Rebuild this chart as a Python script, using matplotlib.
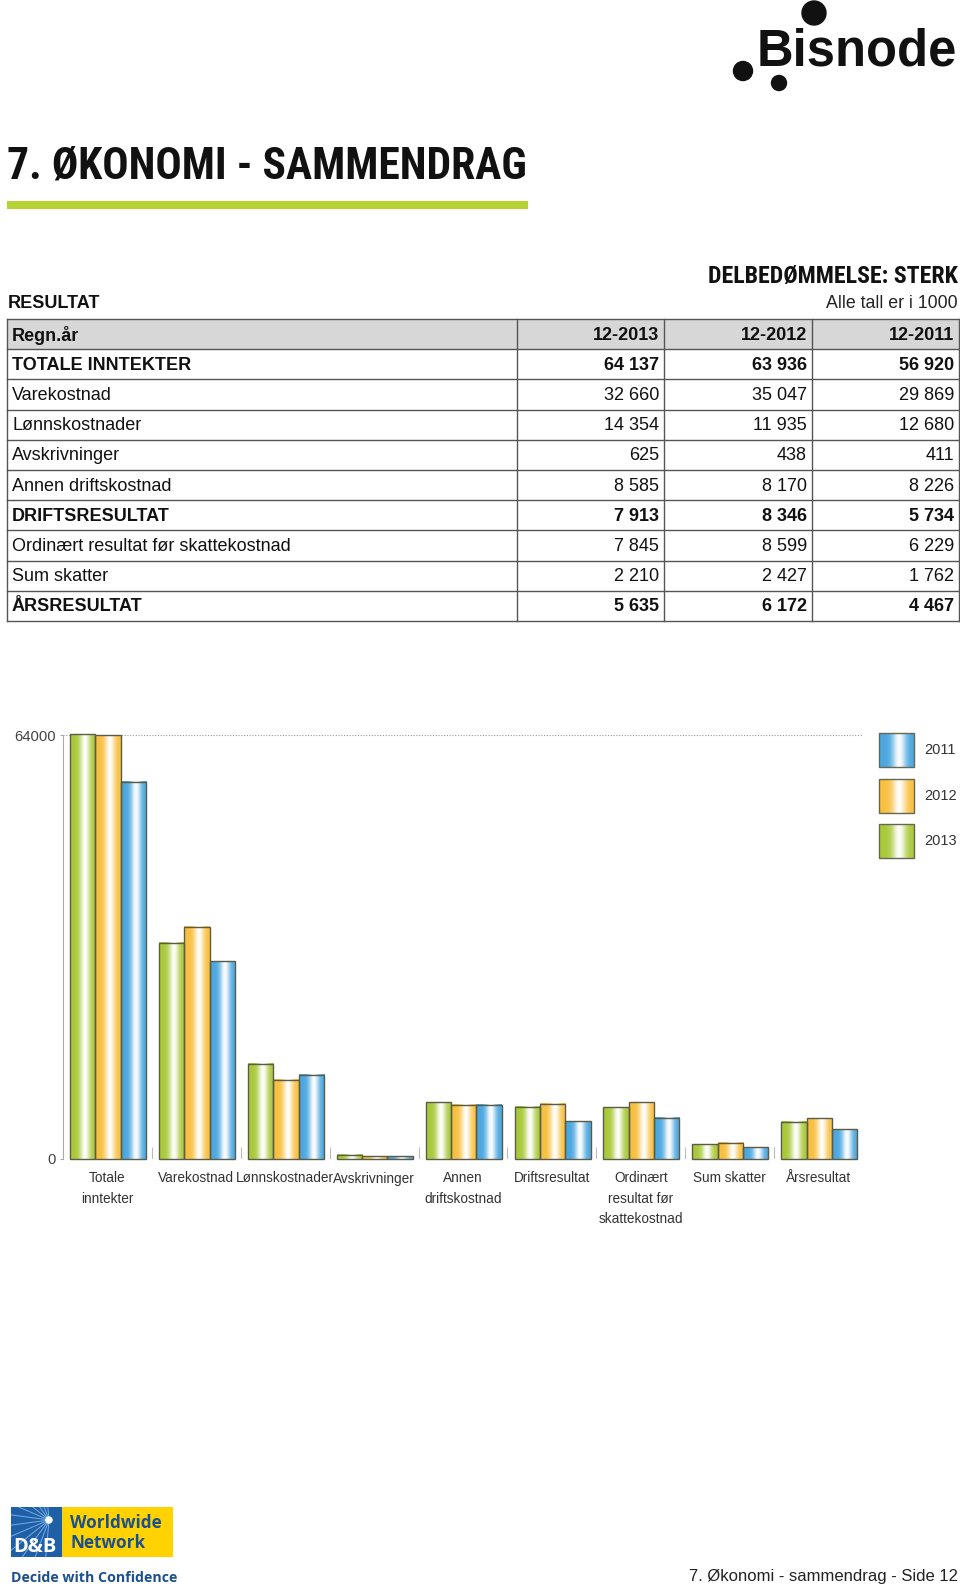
import os
import numpy as np
import matplotlib
matplotlib.use("Agg")
import matplotlib.pyplot as plt
from matplotlib.patches import Rectangle, Circle
from matplotlib.colors import to_rgb
from matplotlib import font_manager as fm

# ---------------- data ----------------
col_years = ["12-2013", "12-2012", "12-2011"]
row_labels = ["TOTALE INNTEKTER", "Varekostnad", "Lønnskostnader", "Avskrivninger",
              "Annen driftskostnad", "DRIFTSRESULTAT", "Ordinært resultat før skattekostnad",
              "Sum skatter", "ÅRSRESULTAT"]
bold_rows = [True, False, False, False, False, True, False, False, True]
values_2013 = [64137, 32660, 14354, 625, 8585, 7913, 7845, 2210, 5635]
values_2012 = [63936, 35047, 11935, 438, 8170, 8346, 8599, 2427, 6172]
values_2011 = [56920, 29869, 12680, 411, 8226, 5734, 6229, 1762, 4467]
chart_labels = ["Totale\ninntekter", "Varekostnad", "Lønnskostnader", "Avskrivninger",
                "Annen\ndriftskostnad", "Driftsresultat", "Ordinært\nresultat før\nskattekostnad",
                "Sum skatter", "Årsresultat"]
legend_years = ["2011", "2012", "2013"]
y_ticks = [0, 64000]

GREEN = "#a9c93a"
ORANGE = "#f8c040"
BLUE = "#4ba7df"
EDGE = "#5b5b4a"
FONT = "Liberation Sans"


def find_font(candidates):
    files = {}
    for f in fm.findSystemFonts():
        files.setdefault(os.path.basename(f), f)
    for c in candidates:
        if c in files:
            return files[c]
    return None


cond_file = find_font([
    "NotoSans-ExtraCondensedBlack.ttf", "NotoSans-ExtraCondensedExtraBold.ttf",
    "NotoSans-CondensedBlack.ttf", "NotoSans-CondensedExtraBold.ttf",
    "NotoSans-ExtraCondensedBold.ttf", "NotoSans-CondensedBold.ttf",
    "RobotoCondensed-Bold.ttf", "RobotoCondensed-Black.ttf",
    "OpenSans-CondensedBold.ttf", "OpenSans_Condensed-Bold.ttf",
    "LiberationSansNarrow-Bold.ttf", "DejaVuSansCondensed-Bold.ttf"])


def cond_fp(size):
    if cond_file:
        return fm.FontProperties(fname=cond_file, size=size)
    return fm.FontProperties(family="DejaVu Sans", weight="bold", size=size)


def gradient(color, n=80):
    base = np.array(to_rgb(color))
    t = np.linspace(0, 1, n)
    w = 0.97 * np.exp(-((t - 0.58) / 0.2) ** 2)
    img = base[None, :] * (1 - w[:, None]) + w[:, None]
    return img[None, :, :]


def fmt(v):
    return f"{v:,}".replace(",", " ")


fig = plt.figure(figsize=(9.6, 15.89), dpi=100)
page = fig.add_axes([0, 0, 1, 1], zorder=0)
page.axis("off")
page.set_xlim(0, 960)
page.set_ylim(1589, 0)
renderer = fig.canvas.get_renderer()


def fit_text(x, y, s, target_w, size0, max_size, **kw):
    t = page.text(x, y, s, fontproperties=cond_fp(size0), **kw)
    w = t.get_window_extent(renderer).width
    size = min(max_size, size0 * target_w / w)
    t.set_fontproperties(cond_fp(size))
    return t


# ---------------- header / logo ----------------
page.text(757, 65, "Bisnode", fontsize=36.5, fontweight="bold", family=FONT,
          va="baseline", ha="left", color="#111111")
for (cx, cy, r) in [(814, 13, 12), (743, 71, 9.5), (779, 83, 7.5)]:
    page.add_patch(Circle((cx, cy), r, color="#111111"))

fit_text(7, 179, "7. ØKONOMI - SAMMENDRAG", 520, 30, 40, va="baseline", ha="left",
         color="#111111")
page.add_patch(Rectangle((7, 201), 521, 8, color="#b5d334", lw=0))

fit_text(958, 283, "DELBEDØMMELSE: STERK", 250, 16, 19, va="baseline", ha="right",
         color="#111111")
page.text(8, 308, "RESULTAT", fontsize=13, fontweight="bold", family=FONT,
          va="baseline", ha="left", color="#111111")
page.text(958, 308, "Alle tall er i 1000", fontsize=12.8, family=FONT,
          va="baseline", ha="right", color="#222222")

# ---------------- table ----------------
t_top = 319
row_h = 30.2
col_x = [7, 517, 664, 812, 959]
n_rows = len(row_labels) + 1
page.add_patch(Rectangle((col_x[0], t_top), col_x[-1] - col_x[0], row_h,
                         facecolor="#d7d7d7", edgecolor="none"))
for r in range(n_rows + 1):
    y = t_top + r * row_h
    page.plot([col_x[0], col_x[-1]], [y, y], color="#555555", lw=1.0)
for x in col_x:
    page.plot([x, x], [t_top, t_top + n_rows * row_h], color="#555555", lw=1.0)

fs_tab = 13
yc = t_top + row_h / 2 + 1
page.text(12, yc, "Regn.år", fontsize=fs_tab, fontweight="bold", family=FONT,
          va="center", ha="left", color="#111111")
for j, yr in enumerate(col_years):
    page.text(col_x[j + 2] - 5, yc, yr, fontsize=fs_tab, fontweight="bold", family=FONT,
              va="center", ha="right", color="#111111")
cols = [values_2013, values_2012, values_2011]
for i, lab in enumerate(row_labels):
    yc = t_top + (i + 1) * row_h + row_h / 2 + 1
    fw = "bold" if bold_rows[i] else "normal"
    page.text(12, yc, lab, fontsize=fs_tab, fontweight=fw, family=FONT,
              va="center", ha="left", color="#111111")
    for j in range(3):
        page.text(col_x[j + 2] - 5, yc, fmt(cols[j][i]), fontsize=fs_tab, fontweight=fw,
                  family=FONT, va="center", ha="right", color="#111111")

# ---------------- legend ----------------
leg_colors = {"2011": BLUE, "2012": ORANGE, "2013": GREEN}
leg_y = [733, 779, 824]
for yr, y0 in zip(legend_years, leg_y):
    page.imshow(gradient(leg_colors[yr]), extent=(879, 914, y0 + 34, y0), aspect="auto",
                zorder=2)
    page.add_patch(Rectangle((879, y0), 35, 34, facecolor="none", edgecolor="#666655",
                             lw=1.0, zorder=3))
    page.text(924, y0 + 17, yr, fontsize=10.5, family=FONT, va="center", ha="left",
              color="#333333")

# ---------------- footer ----------------
blue_box = Rectangle((11, 1507), 51, 50, color="#1f5fa8", lw=0, zorder=1)
page.add_patch(blue_box)
page.add_patch(Rectangle((62, 1507), 111, 50, color="#ffd200", lw=0, zorder=1))
for ang in np.linspace(95, 265, 12):
    a = np.deg2rad(ang)
    ln, = page.plot([49, 49 + 70 * np.cos(a)], [1520, 1520 + 70 * np.sin(a)],
                    color="#9fd0f5", lw=0.7, alpha=0.7, zorder=1.2)
    ln.set_clip_path(blue_box)
page.add_patch(Circle((49, 1520), 3, color="white", zorder=2))
page.text(13, 1552, "D&B", fontsize=14.5, fontweight="bold", family="Open Sans",
          color="white", va="baseline", ha="left", zorder=3)
page.text(70, 1528, "Worldwide", fontsize=12.3, fontweight="bold", family="Open Sans",
          color="#1b4f8d", va="baseline", ha="left", zorder=3)
page.text(70, 1548, "Network", fontsize=12.3, fontweight="bold", family="Open Sans",
          color="#1b4f8d", va="baseline", ha="left", zorder=3)
page.text(11, 1582, "Decide with Confidence", fontsize=10.2, fontweight="bold",
          family="Open Sans", color="#1b4f8d", va="baseline", ha="left")
page.text(958, 1576, "7. Økonomi - sammendrag - Side 12", fontsize=12, family=FONT,
          color="#222222", va="center", ha="right")

page.set_xlim(0, 960)
page.set_ylim(1589, 0)

# ---------------- chart ----------------
ax = fig.add_axes([63 / 960, (1589 - 1159) / 1589, 800 / 960, 424 / 1589], zorder=1)
ax.patch.set_alpha(0)
series = [(values_2013, GREEN), (values_2012, ORANGE), (values_2011, BLUE)]
bw = 0.285
for k, (vals, col) in enumerate(series):
    img = gradient(col)
    for i, v in enumerate(vals):
        x0 = i + 0.08 + k * bw
        ax.imshow(img, extent=(x0, x0 + bw, 0, v), aspect="auto", zorder=2,
                  interpolation="bilinear")
    xs = [i + 0.08 + k * bw for i in range(len(vals))]
    ax.bar(xs, vals, width=bw, align="edge", facecolor="none", edgecolor=EDGE,
           lw=1.0, zorder=3, clip_on=False)

ax.axhline(64000, color="#999999", ls=(0, (1, 1.5)), lw=0.8, zorder=1)
ax.vlines(np.arange(1, 10), 0, 1800, color="#bbbbbb", lw=0.8, zorder=1)
ax.set_xlim(0, 9)
ax.set_ylim(0, 64000)
for s in ["top", "right", "bottom"]:
    ax.spines[s].set_visible(False)
ax.spines["left"].set_color("#aaaaaa")
ax.spines["left"].set_linewidth(0.8)
ax.set_yticks(y_ticks)
ax.set_yticklabels([str(v) for v in y_ticks], fontsize=10.7, family=FONT, color="#444444")
ax.tick_params(axis="y", length=2, color="#aaaaaa", pad=3)
ax.set_xticks(np.arange(9) + 0.5)
ax.set_xticklabels(chart_labels, fontsize=9.8, family=FONT, color="#333333",
                   linespacing=1.55)
ax.tick_params(axis="x", length=0, pad=9)

fig.savefig("out.png", dpi=100)
